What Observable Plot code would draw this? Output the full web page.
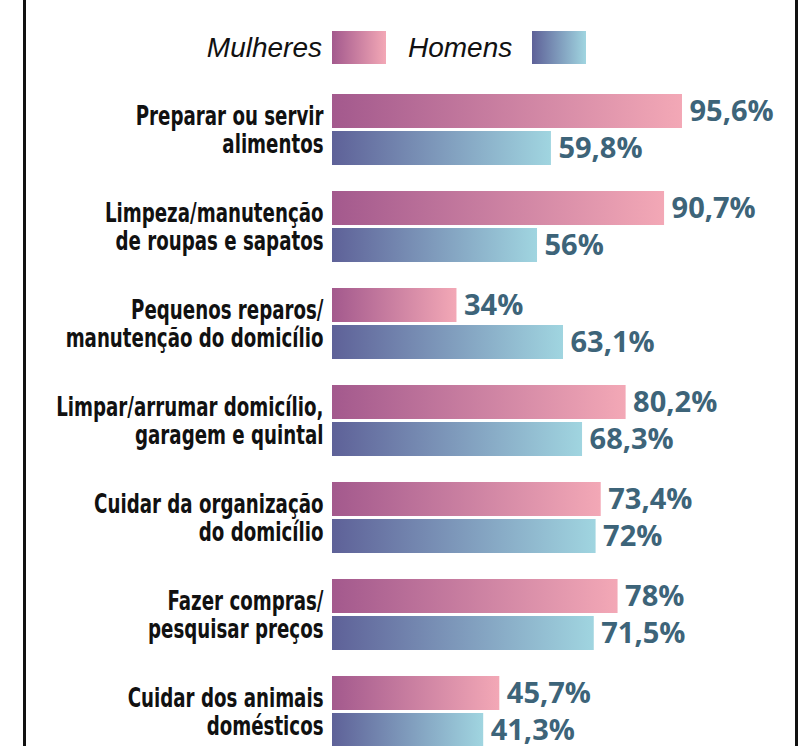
<!DOCTYPE html>
<html><head><meta charset="utf-8">
<script src="https://cdn.jsdelivr.net/npm/d3@7"></script>
<script src="https://cdn.jsdelivr.net/npm/@observablehq/plot@0.6"></script>
<style>
html,body{margin:0;padding:0;background:#fff;overflow:hidden}
#wrap{position:relative;width:799px;height:746px;overflow:hidden;background:#fff}
.border{position:absolute;top:0;height:746px;width:3px;background:#111}
.leg{position:absolute;top:31px;height:33px;display:flex;align-items:center;font-family:"Liberation Sans",Arial,sans-serif;font-style:italic;font-size:28px;color:#111;white-space:nowrap}
.sw{position:absolute;top:31px;height:33px;width:54px}
#chart{position:absolute;left:0;top:0}
</style>
</head><body>
<div id="wrap">
  <div id="chart"></div>
  <div class="border" style="left:23px"></div>
  <div class="border" style="left:795px"></div>
  <div class="leg" id="legM" style="right:477px"></div>
  <div class="sw" style="left:332px;background:linear-gradient(to right,#a3598d,#f3a8b6)"></div>
  <div class="leg" id="legH" style="left:408px"></div>
  <div class="sw" style="left:532px;width:54px;background:linear-gradient(to right,#5e6198,#a0d5e0)"></div>
</div>
<script>
const series = ["Mulheres", "Homens"];
const categories = [
  "Preparar ou servir\nalimentos",
  "Limpeza/manutenção\nde roupas e sapatos",
  "Pequenos reparos/\nmanutenção do domicílio",
  "Limpar/arrumar domicílio,\ngaragem e quintal",
  "Cuidar da organização\ndo domicílio",
  "Fazer compras/\npesquisar preços",
  "Cuidar dos animais\ndomésticos"
];
const mulheres = [95.6, 90.7, 34, 80.2, 73.4, 78, 45.7];
const homens = [59.8, 56, 63.1, 68.3, 72, 71.5, 41.3];

document.getElementById("legM").textContent = series[0];
document.getElementById("legH").textContent = series[1];

const rows = categories.flatMap((c, i) => [
  {cat: c, serie: series[0], value: mulheres[i]},
  {cat: c, serie: series[1], value: homens[i]}
]);
const fmt = v => String(v).replace(".", ",") + "%";
const LABEL_FONT = "DejaVu Sans Condensed";

const chart = Plot.plot({
  width: 799,
  height: 747,
  marginLeft: 332,
  marginRight: 100.9,
  marginTop: 94,
  marginBottom: 0,
  style: {background: "transparent", overflow: "visible"},
  x: {domain: [0, 100], axis: null},
  fy: {domain: categories, axis: null, paddingInner: 0.268, paddingOuter: 0, round: false},
  y: {domain: series, axis: null, paddingInner: 0.081, paddingOuter: 0, round: false},
  marks: [
    Plot.barX(rows.filter(d => d.serie === series[0]), {fy: "cat", y: "serie", x: "value", fill: "url(#gradM)"}),
    Plot.barX(rows.filter(d => d.serie === series[1]), {fy: "cat", y: "serie", x: "value", fill: "url(#gradH)"}),
    Plot.text(rows, {fy: "cat", y: "serie", x: "value", text: d => fmt(d.value), textAnchor: "start", dx: 7,
      fill: "#3d6479", fontSize: 29, fontWeight: 700, fontFamily: "Open Sans"}),
    Plot.text(categories, {fy: d => d, text: d => d, frameAnchor: "left", textAnchor: "end", dx: -9,
      lineHeight: 1.04, fontSize: 27, fontWeight: 700, fontFamily: LABEL_FONT, fill: "#111"})
  ]
});

// condense category labels horizontally (anchored at their right edge)
chart.querySelectorAll(`g[font-family="${LABEL_FONT}"] text`).forEach(t => {
  const tr = t.getAttribute("transform") || "";
  t.setAttribute("transform", tr + " scale(0.75,1)");
});

const ns = "http://www.w3.org/2000/svg";
const defs = document.createElementNS(ns, "defs");
function grad(id, c1, c2) {
  const g = document.createElementNS(ns, "linearGradient");
  g.setAttribute("id", id);
  g.setAttribute("x1", "0"); g.setAttribute("x2", "1"); g.setAttribute("y1", "0"); g.setAttribute("y2", "0");
  [[0, c1], [1, c2]].forEach(([o, c]) => {
    const s = document.createElementNS(ns, "stop");
    s.setAttribute("offset", o); s.setAttribute("stop-color", c);
    g.appendChild(s);
  });
  defs.appendChild(g);
}
grad("gradM", "#a3598d", "#f3a8b6");
grad("gradH", "#5e6198", "#a0d5e0");
chart.insertBefore(defs, chart.firstChild);
document.getElementById("chart").appendChild(chart);
</script>
</body></html>
